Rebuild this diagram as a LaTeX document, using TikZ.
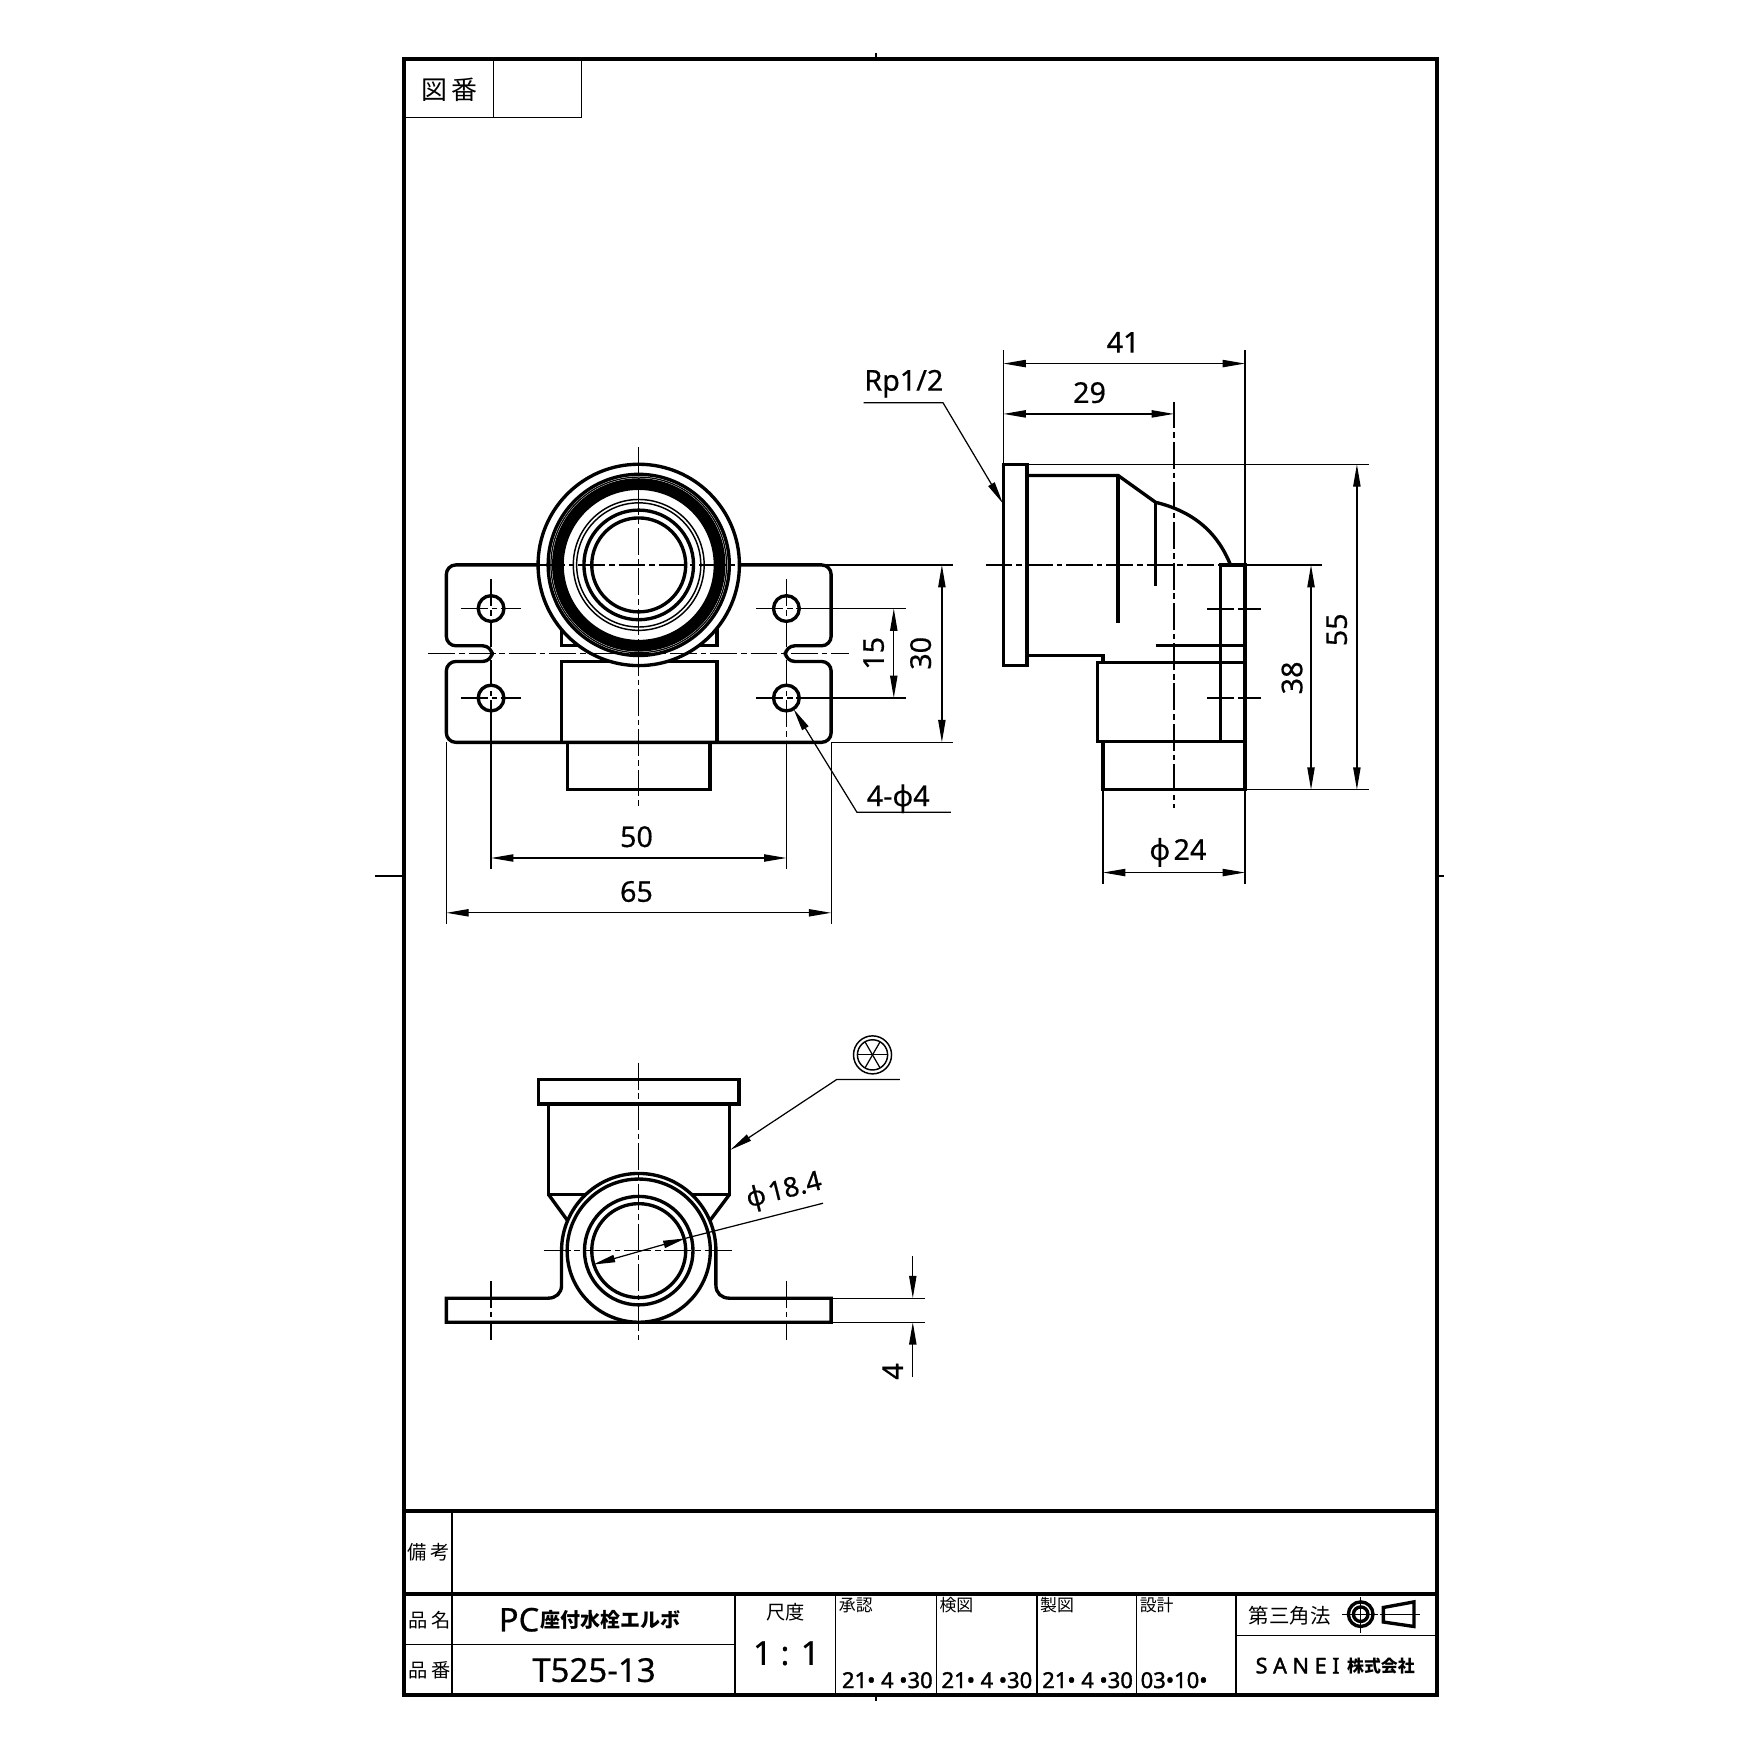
\documentclass[tikz,border=0pt]{standalone}
\usepackage{fontspec}
\setmainfont[FakeBold=0.5]{Noto Sans}
\newfontfamily\heavyfont[FakeBold=1.6]{Noto Sans}
\newfontfamily\cjk{Noto Sans CJK JP}
\usetikzlibrary{arrows.meta}

\tikzset{
	outline/.style={line width=0.3mm},
	frameline/.style={line width=0.36mm},
	cellline/.style={line width=0.13mm},
	thinline/.style={line width=0.11mm},
	chain/.style={line width=0.11mm,dash pattern=on 2.4mm off 0.35mm on 0.5mm off 0.35mm},
	dimline/.style={thinline,<->,>={Stealth[length=2mm,width=0.65mm,inset=0pt]}},
	leader/.style={thinline,->,>={Stealth[length=2mm,width=0.65mm,inset=0pt]}},
	dimtext/.style={inner sep=0pt,font=\fontsize{7.3}{7.3}\selectfont},
	jptext/.style={inner sep=0pt,font=\cjk\fontsize{4.9}{4.9}\selectfont},
	smalljp/.style={inner sep=0pt,font=\cjk\fontsize{4.3}{4.3}\selectfont},
	datetext/.style={inner sep=0pt,anchor=west,font=\heavyfont\fontsize{5.6}{5.6}\selectfont},
}

\begin{document}
\begin{tikzpicture}[x=0.1mm,y=-0.1mm]
	\fill[white,use as bounding box] (0,0) rectangle (1568,1568);

	% sheet
	\draw[frameline] (361,53) rectangle (1285,1515);
	\draw[frameline] (361,1351) -- (1285,1351);
	\draw[frameline] (361,1425) -- (1285,1425);
	\draw[cellline] (361,105) -- (520,105) -- (520,53);
	\draw[cellline] (441,53) -- (441,105);
	\draw[cellline] (404,1351) -- (404,1515);
	\draw[cellline] (361,1470) -- (657,1470);
	\draw[cellline] (1105,1462) -- (1285,1462);
	\foreach \xcell in {657,747,837,927,1016,1105}
		\draw[cellline] (\xcell,1425) -- (\xcell,1515);
	\draw[thinline] (783,47) -- (783,53);
	\draw[thinline] (783,1515) -- (783,1521);
	\draw[thinline] (335,783) -- (361,783);
	\draw[thinline] (1285,783) -- (1291,783);

	% front view
	\draw[outline,rounded corners=0.85mm] (500,505) -- (399,505) -- (399,577.3) -- (440,577.3) -- (440,591.3)
		-- (399,591.3) -- (399,663.6) -- (743,663.6) -- (743,591.3) -- (702,591.3) -- (702,577.3)
		-- (743,577.3) -- (743,505) -- (640,505);
	\draw[outline] (502,560) rectangle (641,577.3);
	\draw[outline] (502,591.3) rectangle (641,663.6);
	\draw[outline] (507.5,663.6) rectangle (634.7,705.6);
	\draw[outline,fill=white] (571,505) circle (90);
	\draw[outline] (571,505) circle (81);
	\draw[thinline] (571,505) circle (78.5);
	\foreach \rband in {68,69.5,71,72.5,74,75.5,76.5}
		\draw[line width=0.2mm] (571,505) circle (\rband);
	\draw[cellline] (571,505) circle (58.5);
	\draw[cellline] (571,505) circle (55.5);
	\draw[outline] (571,505) circle (49);
	\draw[outline] (571,505) circle (42);
	\foreach \xhole in {439,703}
		\foreach \yhole in {544,624}{
			\draw[outline] (\xhole,\yhole) circle (11.5);
			\draw[chain] (\xhole-27,\yhole) -- (\xhole+27,\yhole);
		}
	\draw[chain] (571,400) -- (571,722);
	\draw[chain] (481,505) -- (661,505);
	\draw[chain] (383,584) -- (759,584);
	\draw[chain] (439,518) -- (439,664);
	\draw[chain] (703,518) -- (703,664);

	% front view dimensions
	\draw[thinline] (734,505) -- (852,505);
	\draw[thinline] (743,663.6) -- (852,663.6);
	\draw[thinline] (714,544) -- (810,544);
	\draw[thinline] (714,624) -- (810,624);
	\draw[thinline] (399,663.6) -- (399,826);
	\draw[thinline] (743,663.6) -- (743,826);
	\draw[thinline] (439,635) -- (439,777);
	\draw[cellline] (703,664) -- (703,777);
	\draw[dimline] (439,767) -- (703,767);
	\draw[dimline] (399,816) -- (743,816);
	\draw[dimline] (799,544) -- (799,624);
	\draw[dimline] (842,505) -- (842,663.6);
	\draw[leader] (850,726) -- (766,726) -- (709.5,634);
	\node[dimtext] (dimfifty) at (569,748) {50};
	\node[dimtext] (dimsixtyfive) at (569,797) {65};
	\node[dimtext,rotate=90] (dimfifteen) at (781,584) {15};
	\node[dimtext,rotate=90] (dimthirty) at (823,584) {30};
	\node[dimtext] (dimholes) at (803,714) {4-ϕ4};

	% side view
	\draw[outline] (897,415) rectangle (918,595);
	\draw[outline] (918,425) -- (999.5,425) -- (1033,449) .. controls (1066,457) and (1088,475) .. (1100,505);
	\draw[outline] (999.5,425) -- (999.5,557);
	\draw[outline] (1033,449) -- (1033,524);
	\draw[outline] (918,586) -- (986,586) -- (986,592);
	\draw[outline] (1091,505) rectangle (1113,663);
	\draw[outline] (981,592) rectangle (1113,663);
	\draw[outline] (986,663) rectangle (1113,706);
	\draw[outline] (1033,577) -- (1113,577);
	\draw[chain] (1049.5,359) -- (1049.5,722);
	\draw[chain] (881,505) -- (1091,505);
	\draw[chain] (1079,544.5) -- (1127,544.5);
	\draw[chain] (1079,624) -- (1127,624);

	% side view dimensions
	\draw[cellline] (918,415) -- (1224,415);
	\draw[thinline] (1113,505) -- (1182,505);
	\draw[thinline] (1113,706) -- (1224,706);
	\draw[thinline] (897,313) -- (897,415);
	\draw[thinline] (1113,313) -- (1113,505);
	\draw[thinline] (986,706) -- (986,790);
	\draw[thinline] (1113,706) -- (1113,790);
	\draw[dimline] (897,325) -- (1113,325);
	\draw[dimline] (897,370) -- (1049.5,370);
	\draw[dimline] (1213,415) -- (1213,706);
	\draw[dimline] (1172,505) -- (1172,706);
	\draw[dimline] (986,780) -- (1113,780);
	\draw[leader] (772,360) -- (843,360) -- (896.5,450);
	\node[dimtext] (dimfortyone) at (1004,306) {41};
	\node[dimtext] (dimtwentynine) at (974,351) {29};
	\node[dimtext,rotate=90] (dimfiftyfive) at (1195,563) {55};
	\node[dimtext,rotate=90] (dimthirtyeight) at (1155,606) {38};
	\node[dimtext] (dimbore) at (1053,762) {ϕ\hspace{0.3mm}24};
	\node[dimtext] (dimthread) at (808,343) {Rp1/2};

	% bottom view
	\draw[outline] (481.5,965) rectangle (660.5,987);
	\draw[outline] (490.5,987) -- (490.5,1068) -- (652,1068) -- (652,987);
	\draw[outline] (490.5,1068) -- (508,1092);
	\draw[outline] (652,1068) -- (634,1092);
	\draw[outline,fill=white] (399,1160.5) -- (490,1160.5) .. controls (497,1160.5) and (502,1156) .. (502,1149)
		-- (502,1118) arc[start angle=180,end angle=360,radius=69] -- (640,1149)
		.. controls (640,1156) and (645,1160.5) .. (652,1160.5) -- (743,1160.5) -- (743,1182) -- (399,1182) -- cycle;
	\draw[outline,fill=white] (571,1118) circle (64);
	\draw[outline] (571,1118) circle (48.5);
	\draw[outline] (571,1118) circle (42);
	\draw[chain] (571,950) -- (571,1198);
	\draw[chain] (486,1118) -- (655,1118);
	\draw[chain] (439,1145) -- (439,1198);
	\draw[chain] (703,1145) -- (703,1198);

	% bottom view dimensions and finish mark
	\draw[thinline] (743,1160.5) -- (827,1160.5);
	\draw[thinline] (743,1182) -- (827,1182);
	\draw[leader] (816,1123) -- (816,1160.5);
	\draw[leader] (816,1231) -- (816,1182);
	\draw[thinline] (612.8,1107) -- (735.8,1075.6);
	\draw[dimline] (530,1130.5) -- (612.8,1107);
	\draw[leader] (804.5,965) -- (748,965) -- (652.8,1028);
	\node[dimtext,rotate=90] (dimplate) at (798,1226) {4};
	\node[dimtext,rotate=14,font=\fontsize{6.9}{6.9}\selectfont] (dimthroat) at (701,1065) {ϕ\hspace{0.3mm}18.4};
	\draw[cellline] (780,943) circle (17);
	\draw[cellline] (780,943) circle (13.5);
	\foreach \aspoke in {0,60,120}
		\draw[thinline] (780,943) ++(\aspoke:13.5) -- ++(\aspoke+180:27);

	% title block texts
	\node[jptext,font=\cjk\fontsize{6.6}{6.6}\selectfont] (drawingno) at (402,80) {図\,番};
	\node[jptext] (remarks) at (383,1388) {備\,考};
	\node[jptext] (partname) at (384,1448) {品\,名};
	\node[jptext] (partno) at (384,1493) {品\,番};
	\node[dimtext,font=\fontsize{8.3}{8.3}\selectfont] (namelatin) at (464,1448) {PC};
	\node[jptext,font=\cjk\bfseries\fontsize{5.1}{5.1}\selectfont] (namejp) at (546,1448) {座付水栓エルボ};
	\node[dimtext,font=\fontsize{8.4}{8.4}\selectfont] (partcode) at (531,1493) {T525-13};
	\node[jptext] (scalehead) at (702,1441) {尺度};
	\node[dimtext,font=\fontsize{8.4}{8.4}\selectfont] (scaleval) at (703,1478) {1 : 1};
	\node[smalljp] (approved) at (765,1435) {承認};
	\node[smalljp] (checked) at (855,1435) {検図};
	\node[smalljp] (drawn) at (945,1435) {製図};
	\node[smalljp] (designed) at (1034,1435) {設計};
	\foreach \xdate/\ndate in {752/dateone,841/datetwo,931/datethree}
		\node[datetext] (\ndate) at (\xdate,1502) {21•\hspace{0.5mm}4\hspace{0.5mm}•30};
	\node[datetext] (datefour) at (1019,1502) {03•10•};
	\node[jptext,font=\cjk\fontsize{5.2}{5.2}\selectfont] (thirdangle) at (1153,1444) {第三角法};
	\node[dimtext,font=\heavyfont\fontsize{5.5}{5.5}\selectfont] (sanei) at (1160,1489) {S A N E I};
	\node[jptext,font=\cjk\bfseries\fontsize{4.3}{4.3}\selectfont] (kabushiki) at (1234.5,1489) {株式会社};

	% third angle mark
	\draw[thinline] (1200,1443) -- (1232,1443);
	\draw[thinline] (1216.4,1428) -- (1216.4,1460);
	\draw[outline] (1216.4,1443) circle (11);
	\draw[outline] (1216.4,1443) circle (6.5);
	\draw[outline] (1236.7,1437) -- (1264,1432) -- (1264,1454) -- (1236.7,1450) -- cycle;
	\draw[thinline] (1233.7,1443) -- (1269.5,1443);
\end{tikzpicture}
\end{document}
